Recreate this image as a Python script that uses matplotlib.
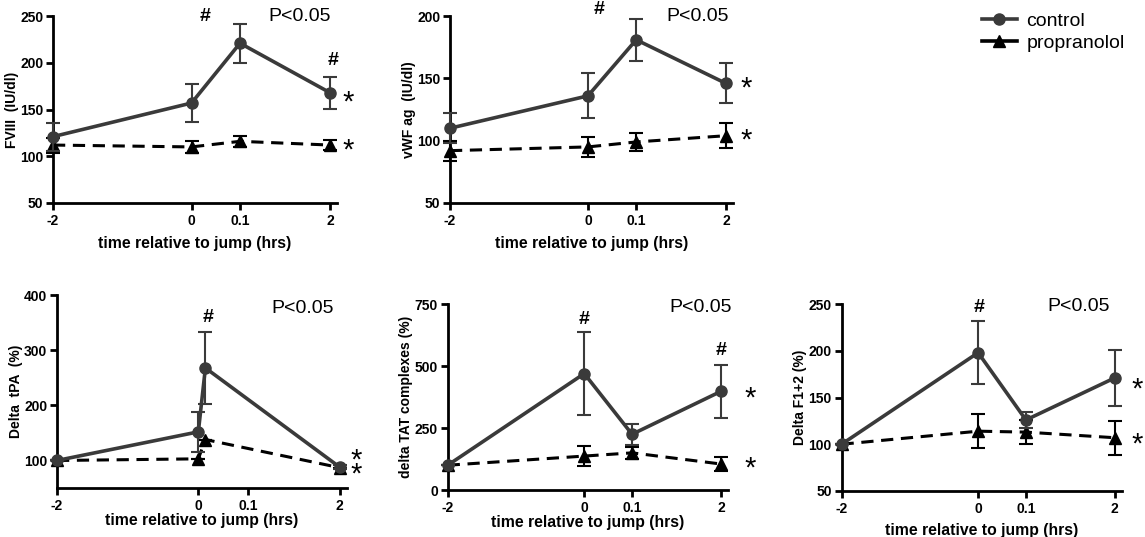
import matplotlib
matplotlib.use('Agg')
import matplotlib.pyplot as plt
from matplotlib.lines import Line2D

plt.rcParams['font.family'] = ['Liberation Sans', 'DejaVu Sans']

# Etiquetas del eje x (escala segmentada)
x_labels = ['-2', '0', '0.1', '2']
x_pos = [0, 3, 4.05, 6]
x_pos_tpa = [0, 3, 3.15, 6]

# FVIII (IU/dl)
fviii_ctrl = [121, 157, 221, 168]
fviii_ctrl_err = [15, 20, 21, 17]
fviii_prop = [112, 110, 116, 112]
fviii_prop_err = [8, 6, 6, 5]

# vWF ag (IU/dl)
vwf_ctrl = [110, 136, 181, 146]
vwf_ctrl_err = [12, 18, 17, 16]
vwf_prop = [92, 95, 99, 104]
vwf_prop_err = [8, 8, 7, 10]

# Delta tPA (%)
tpa_ctrl = [100, 152, 268, 88]
tpa_ctrl_err = [0, 36, 66, 3]
tpa_prop = [100, 103, 138, 87]
tpa_prop_err = [0, 0, 0, 0]

# delta TAT complexes (%)
tat_ctrl = [100, 470, 225, 398]
tat_ctrl_err = [0, 168, 42, 107]
tat_prop = [100, 137, 150, 105]
tat_prop_err = [0, 39, 25, 30]

# Delta F1+2 (%)
f12_ctrl = [100, 198, 126, 171]
f12_ctrl_err = [0, 34, 9, 30]
f12_prop = [100, 114, 113, 107]
f12_prop_err = [0, 18, 13, 18]

COLOR_CTRL = '#3a3a3a'
DASH = (0, (4, 2.5))


def dibujar_panel(ax, xs, ctrl, ctrl_err, prop, prop_err, ylim, yticks, ylabel, xpad=6):
    ax.errorbar(xs, ctrl, yerr=ctrl_err, color=COLOR_CTRL, lw=2.6, marker='o', ms=8,
                capsize=5, elinewidth=1.5, capthick=1.5, clip_on=False, zorder=4)
    ax.errorbar(xs, prop, yerr=prop_err, color='black', lw=2.2, ls=DASH,
                marker='^', ms=8, capsize=5, elinewidth=1.5, capthick=1.5,
                clip_on=False, zorder=3)
    ax.set_xlim(0, 6.15)
    ax.set_ylim(*ylim)
    ax.set_yticks(yticks)
    ax.set_xticks(x_pos)
    ax.set_xticklabels(x_labels)
    ax.spines['top'].set_visible(False)
    ax.spines['right'].set_visible(False)
    for s in ['left', 'bottom']:
        ax.spines[s].set_linewidth(2)
    ax.tick_params(width=2, length=5, labelsize=10)
    ax.tick_params(axis='x', pad=3)
    ax.tick_params(axis='y', pad=2)
    for t in ax.get_xticklabels() + ax.get_yticklabels():
        t.set_fontweight('bold')
    ax.set_xlabel('time relative to jump (hrs)', fontsize=11.3, fontweight='bold', labelpad=xpad)
    ax.set_ylabel(ylabel, fontsize=10, fontweight='bold', labelpad=1)


def marcas(ax, p_xy, hashes, stars):
    ax.text(p_xy[0], p_xy[1], 'P<0.05', fontsize=14, va='center', ha='left', clip_on=False)
    for hx, hy in hashes:
        ax.text(hx, hy, '#', fontsize=14, fontweight='bold', va='center', ha='center', clip_on=False)
    for sx, sy in stars:
        ax.text(sx, sy, '*', fontsize=21, va='center', ha='center', clip_on=False)


fig = plt.figure(figsize=(11.45, 5.37), dpi=100)

ax1 = fig.add_axes([0.0463, 0.622, 0.248, 0.348])
dibujar_panel(ax1, x_pos, fviii_ctrl, fviii_ctrl_err, fviii_prop, fviii_prop_err,
              (50, 250), [50, 100, 150, 200, 250], 'FVIII  (IU/dl)')
marcas(ax1, (4.67, 250), [(3.3, 250), (6.07, 203)], [(6.39, 158), (6.39, 106)])

ax2 = fig.add_axes([0.393, 0.622, 0.247, 0.348])
dibujar_panel(ax2, x_pos, vwf_ctrl, vwf_ctrl_err, vwf_prop, vwf_prop_err,
              (50, 200), [50, 100, 150, 200], 'vWF ag  (IU/dl)')
marcas(ax2, (4.7, 200), [(3.25, 205)], [(6.43, 142), (6.43, 100)])

ax4 = fig.add_axes([0.0498, 0.0912, 0.253, 0.359])
dibujar_panel(ax4, x_pos_tpa, tpa_ctrl, tpa_ctrl_err, tpa_prop, tpa_prop_err,
              (50, 400), [100, 200, 300, 400], 'Delta  tPA  (%)', xpad=0)
marcas(ax4, (4.55, 376), [(3.2, 360)], [(6.36, 99), (6.36, 74)])

ax5 = fig.add_axes([0.391, 0.0875, 0.2445, 0.346])
dibujar_panel(ax5, x_pos, tat_ctrl, tat_ctrl_err, tat_prop, tat_prop_err,
              (0, 750), [0, 250, 500, 750], 'delta TAT complexes (%)', xpad=0)
marcas(ax5, (4.87, 738), [(3.0, 687), (6.0, 563)], [(6.64, 368), (6.64, 86)])

ax6 = fig.add_axes([0.735, 0.0857, 0.2445, 0.348])
dibujar_panel(ax6, x_pos, f12_ctrl, f12_ctrl_err, f12_prop, f12_prop_err,
              (50, 250), [50, 100, 150, 200, 250], 'Delta F1+2 (%)', xpad=5)
marcas(ax6, (4.53, 247), [(3.03, 246)], [(6.5, 159), (6.5, 100)])

# Leyenda (sin barras de error)
handles = [Line2D([], [], color=COLOR_CTRL, lw=2.6, marker='o', ms=8),
           Line2D([], [], color='black', lw=2.6, marker='^', ms=8)]
fig.legend(handles, ['control', 'propranolol'], loc='upper left',
           bbox_to_anchor=(0.842, 1.01), frameon=False,
           fontsize=14, handlelength=1.8, handletextpad=0.5, labelspacing=0.25)

fig.savefig('out.png', dpi=100)
